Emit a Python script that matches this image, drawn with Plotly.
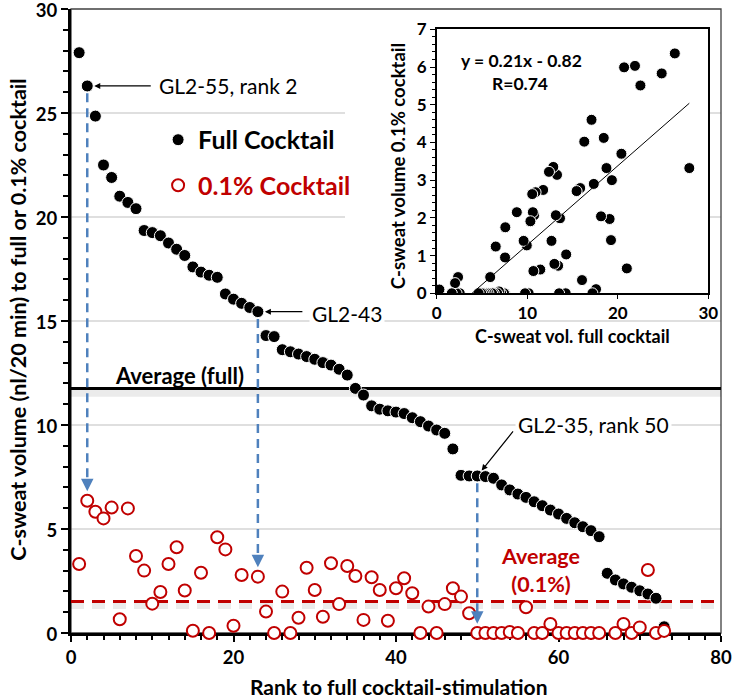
import plotly.graph_objects as go

# rank of each gland to the full cocktail stimulation
rank = list(range(1, 74))

# C-sweat volume (nl/20 min), full cocktail
full = [27.9, 26.3, 24.85, 22.5, 21.9, 21.0, 20.7, 20.4, 19.35, 19.25,
        19.1, 18.75, 18.45, 18.15, 17.6, 17.35, 17.2, 17.1, 16.3, 16.05,
        15.85, 15.65, 15.45, 14.3, 14.25, 13.62, 13.52, 13.41, 13.29, 13.16,
        13.0, 12.88, 12.68, 12.4, 11.76, 11.44, 10.92, 10.76, 10.68, 10.62,
        10.55, 10.35, 10.16, 9.95, 9.76, 9.6, 8.85, 7.58, 7.55, 7.55,
        7.52, 7.44, 7.12, 6.88, 6.68, 6.52, 6.31, 6.12, 5.91, 5.72,
        5.51, 5.3, 5.11, 4.92, 4.63, 2.87, 2.55, 2.36, 2.2, 2.03,
        1.875, 1.67, 0.3]

# C-sweat volume, 0.1% cocktail (None = no value)
point01 = [3.32, 6.36, 5.83, 5.51, 6.03, 0.66, 5.99, 3.7, 3.0, 1.41,
           1.97, 3.32, 4.12, 2.04, 0.11, 2.9, 0.0, 4.6, 4.02, 0.35,
           2.79, None, 2.71, 1.03, 0.0, 1.99, 0.0, 0.73, 3.14, 2.07,
           0.78, 3.35, 1.39, 3.22, 2.74, 0.63, 2.68, 2.07, 0.59, 2.15,
           2.63, 1.91, 0.0, 1.27, 0.0, 1.39, 2.15, 1.75, 0.95, 0.0,
           0.0, 0.0, 0.0, 0.05, 0.0, 1.24, 0.0, 0.0, 0.43, 0.0,
           0.0, 0.0, 0.0, 0.0, 0.0, None, 0.0, 0.43, 0.0, 0.27,
           3.03, 0.0, 0.1]

avg_full = 11.75
avg_01 = 1.52

# glands pointed out in the chart
callouts = [(2, "GL2-55, rank 2"), (23, "GL2-43"), (50, "GL2-35, rank 50")]
inset_skip = [71]

fit_slope = 0.21
fit_intercept = -0.82

RED = "#C00000"
BLUE = "#4F81BD"
FONT = "Lato"

fig = go.Figure()

fig.add_trace(go.Scatter(
    x=rank, y=full, mode="markers", name="<b>Full Cocktail</b>",
    marker=dict(size=12, color="black", line=dict(color="white", width=1)),
    cliponaxis=False, legendgroup="a"))
fig.add_trace(go.Scatter(
    x=rank, y=point01, mode="markers",
    name=f"<b><span style='color:{RED}'>0.1% Cocktail</span></b>",
    marker=dict(size=12, color="white", line=dict(color=RED, width=2)),
    cliponaxis=False, legendgroup="b"))

# inset: 0.1% vs full
ins_x = [f for r, f, p in zip(rank, full, point01) if p is not None and r not in inset_skip]
ins_y = [p for r, p in zip(rank, point01) if p is not None and r not in inset_skip]
fig.add_trace(go.Scatter(
    x=ins_x, y=ins_y, xaxis="x2", yaxis="y2", mode="markers", showlegend=False,
    marker=dict(size=11, color="black", line=dict(color="white", width=1))))
fit_x = [-fit_intercept / fit_slope, max(full)]
fit_y = [fit_slope * v + fit_intercept for v in fit_x]
fig.add_trace(go.Scatter(
    x=fit_x, y=fit_y, xaxis="x2", yaxis="y2", mode="lines", showlegend=False,
    line=dict(color="black", width=1)))

shapes = []
for g in [5, 10, 15, 20, 25]:
    shapes.append(dict(type="line", xref="paper", yref="y", x0=0, x1=1, y0=g, y1=g,
                       line=dict(color="#BFBFBF", width=1), layer="below"))
# white box behind the inset
shapes.append(dict(type="rect", xref="paper", yref="paper", x0=0.4215, x1=0.98, y0=0.5048, y1=1,
                   fillcolor="white", line=dict(width=0), layer="below"))
shapes.append(dict(type="rect", xref="paper", yref="paper", x0=0, x1=1, y0=0, y1=1,
                   line=dict(color="#404040", width=1.3), layer="below"))
# average lines with soft shadow
shapes.append(dict(type="line", xref="paper", yref="y", x0=0, x1=1, y0=avg_full - 0.22, y1=avg_full - 0.22,
                   line=dict(color="rgba(0,0,0,0.08)", width=7), layer="below"))
shapes.append(dict(type="line", xref="paper", yref="y", x0=0, x1=1, y0=avg_full, y1=avg_full,
                   line=dict(color="black", width=3), layer="below"))
shapes.append(dict(type="line", xref="paper", yref="y", x0=0, x1=1, y0=avg_01 - 0.22, y1=avg_01 - 0.22,
                   line=dict(color="rgba(0,0,0,0.08)", width=6, dash="13px,8px"), layer="below"))
shapes.append(dict(type="line", xref="paper", yref="y", x0=0, x1=1, y0=avg_01, y1=avg_01,
                   line=dict(color=RED, width=3, dash="13px,8px"), layer="below"))

annotations = []
for r, label in callouts:
    y_top = full[r - 1] - 0.35
    y_end = point01[r - 1] + 0.45
    shapes.append(dict(type="line", xref="x", yref="y", x0=r, x1=r, y0=y_top, y1=y_end + 0.4,
                       line=dict(color=BLUE, width=2.5, dash="9px,6px")))
    annotations.append(dict(x=r, y=y_end, xref="x", yref="y", text="", showarrow=True,
                            ax=0, ay=-10, arrowhead=2, arrowsize=1, arrowwidth=2.5,
                            arrowcolor=BLUE, standoff=0))

# black pointer arrows and labels (pixel offsets from the marked point)
pointers = {2: (65, 0, 141, 0), 23: (46, 0, 89, 2), 50: (37, -46, 116, -51)}
for r, label in callouts:
    ax, ay, tx, ty = pointers[r]
    annotations.append(dict(x=r, y=full[r - 1], xref="x", yref="y", text="", showarrow=True,
                            ax=ax, ay=ay, arrowhead=2, arrowsize=1, arrowwidth=1.2,
                            arrowcolor="black", standoff=7))
    annotations.append(dict(x=r, y=full[r - 1], xref="x", yref="y", text=label, showarrow=False,
                            xshift=tx, yshift=-ty, bgcolor="white", borderpad=2,
                            xanchor="center", yanchor="middle",
                            font=dict(family=FONT, size=21, color="black")))

annotations += [
    dict(x=5.2, y=12.4, xref="x", yref="y", xanchor="left", yanchor="middle",
         text="<b>Average (full)</b>",
         showarrow=False, font=dict(family=FONT, size=22, color="black")),
    dict(x=57.8, y=3.05, xref="x", yref="y", xanchor="center", yanchor="middle",
         text="<b>Average<br>(0.1%)</b>",
         showarrow=False, font=dict(family=FONT, size=21.5, color=RED)),
    dict(x=-0.0815, y=0.502, xref="paper", yref="paper", textangle=-90,
         xanchor="center", yanchor="middle",
         text="<b>C-sweat volume (nl/20 min) to full or 0.1% cocktail</b>",
         showarrow=False, font=dict(family=FONT, size=21.5, color="black")),
    dict(x=0.505, y=-0.085, xref="paper", yref="paper", xanchor="center", yanchor="middle",
         text="<b>Rank to full cocktail-stimulation</b>",
         showarrow=False, font=dict(family=FONT, size=21, color="black")),
    # inset texts
    dict(x=0.503, y=0.748, xref="paper", yref="paper", textangle=-90,
         xanchor="center", yanchor="middle",
         text="<b>C-sweat volume 0.1% cocktail</b>",
         showarrow=False, font=dict(family=FONT, size=18.5, color="black")),
    dict(x=0.7715, y=0.4755, xref="paper", yref="paper", xanchor="center", yanchor="middle",
         text="<b>C-sweat vol. full cocktail</b>",
         showarrow=False, font=dict(family=FONT, size=18, color="black")),
    dict(x=0.6925, y=0.918, xref="paper", yref="paper", xanchor="center", yanchor="middle",
         text="<b>y = 0.21x - 0.82</b>",
         showarrow=False, font=dict(family=FONT, size=17.5, color="black")),
    dict(x=0.691, y=0.880, xref="paper", yref="paper", xanchor="center", yanchor="middle",
         text="<b>R=0.74</b>",
         showarrow=False, font=dict(family=FONT, size=17.5, color="black")),
]

tick_font = dict(family=FONT, size=18.5, color="black", weight="bold")
inset_font = dict(family=FONT, size=17, color="black", weight="bold")

fig.update_layout(
    width=733, height=699,
    margin=dict(l=71, r=12, t=9, b=66),
    paper_bgcolor="white", plot_bgcolor="white",
    font=dict(family=FONT, color="black"),
    shapes=shapes, annotations=annotations,
    legend=dict(x=0.134, y=0.827, xanchor="left", yanchor="top", bgcolor="rgba(0,0,0,0)",
                font=dict(family=FONT, size=25, color="black"), tracegroupgap=10),
    xaxis=dict(range=[0, 80], dtick=20, tick0=0, showgrid=False, zeroline=False,
               showline=True, linecolor="black", linewidth=3, layer="below traces",
               automargin=False, ticklabeloverflow="allow",
               ticks="outside", ticklen=6, tickwidth=1.5, tickcolor="black",
               minor=dict(dtick=2, ticks="outside", ticklen=4, tickwidth=1.5, tickcolor="black"),
               tickfont=tick_font),
    yaxis=dict(range=[0, 30], dtick=5, tick0=0, showgrid=False, zeroline=False,
               showline=True, linecolor="black", linewidth=3, layer="below traces",
               automargin=False, ticklabeloverflow="allow", ticklabelshift=2,
               ticks="outside", ticklen=7, tickwidth=1.5, tickcolor="black",
               minor=dict(dtick=1, ticks="outside", ticklen=5, tickwidth=1.5, tickcolor="black"),
               tickfont=tick_font),
    xaxis2=dict(domain=[0.5626, 0.9805], anchor="y2", range=[0, 30], dtick=10,
                showgrid=False, zeroline=False, showline=True, mirror=True, automargin=False,
                linecolor="black", linewidth=1.5, ticks="outside", ticklen=4,
                tickcolor="black", tickfont=inset_font),
    yaxis2=dict(domain=[0.5444, 0.9675], anchor="x2", range=[0, 7], dtick=1,
                showgrid=False, zeroline=False, showline=True, mirror=True, automargin=False,
                linecolor="black", linewidth=1.5, ticks="outside", ticklen=5,
                tickcolor="black", tickfont=inset_font,
                minor=dict(dtick=0.2, ticks="outside", ticklen=3, tickcolor="black")),
)

# the page body has a default 8px margin; drop it so the figure fills the window
fig.write_html("out.html", config={"displayModeBar": False},
               post_script="document.body.style.margin = '0';")
